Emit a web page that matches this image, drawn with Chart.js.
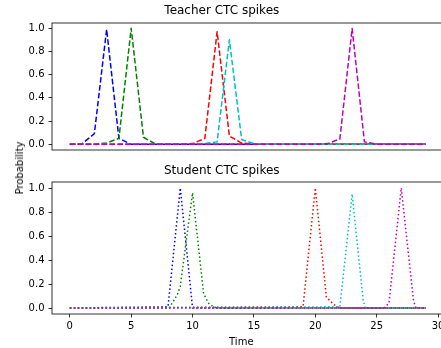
<!DOCTYPE html>
<html>
<head>
<meta charset="utf-8">
<script src="https://cdn.jsdelivr.net/npm/chart.js@4.4.1/dist/chart.umd.min.js"></script>
<style>
  html, body { margin: 0; padding: 0; background: #fff; overflow: hidden; width: 441px; height: 348px; }
  .plot { position: absolute; left: 0; }
  .label { position: absolute; font: 10px 'DejaVu Sans', sans-serif; color: #000; line-height: 12px; white-space: nowrap; }
</style>
</head>
<body>
<canvas id="teacher" class="plot" width="496" height="160" style="top:0"></canvas>
<canvas id="student" class="plot" width="496" height="188" style="top:160px"></canvas>
<div class="label" style="left:19.5px;top:168px;transform:translate(-50%,-50%) rotate(-90deg)">Probability</div>
<div class="label" style="left:241.3px;top:335.5px;transform:translateX(-50%)">Time</div>
<script>
// time axis and ticks
const timeSteps = [0, 1, 2, 3, 4, 5, 6, 7, 8, 9, 10, 11, 12, 13, 14, 15, 16, 17, 18, 19, 20, 21, 22, 23, 24, 25, 26, 27, 28, 29];
const tickX = [0, 5, 10, 15, 20, 25, 30];
const tickY = [0.0, 0.2, 0.4, 0.6, 0.8, 1.0];
const colors = ['#0000ff', '#008000', '#ff0000', '#00bfbf', '#bf00bf'];

// teacher spikes (one value per time step)
const teacherBlue    = [0, 0.005, 0.09, 0.99, 0.05, 0, 0, 0, 0, 0, 0, 0, 0, 0, 0, 0, 0, 0, 0, 0, 0, 0, 0, 0, 0, 0, 0, 0, 0, 0];
const teacherGreen   = [0, 0, 0, 0.01, 0.05, 1.0, 0.06, 0, 0, 0, 0, 0, 0, 0, 0, 0, 0, 0, 0, 0, 0, 0, 0, 0, 0, 0, 0, 0, 0, 0];
const teacherRed     = [0, 0, 0, 0, 0, 0, 0, 0, 0, 0, 0.005, 0.05, 0.97, 0.07, 0.01, 0, 0, 0, 0, 0, 0, 0, 0, 0, 0, 0, 0, 0, 0, 0];
const teacherCyan    = [0, 0, 0, 0, 0, 0, 0, 0, 0, 0, 0, 0.005, 0.02, 0.90, 0.04, 0.005, 0, 0, 0, 0, 0, 0, 0, 0, 0, 0, 0, 0, 0, 0];
const teacherMagenta = [0, 0, 0, 0, 0, 0, 0, 0, 0, 0, 0, 0, 0, 0, 0, 0, 0, 0, 0, 0, 0, 0.005, 0.045, 0.997, 0.02, 0, 0, 0, 0, 0];

// student spikes (read as x / y pairs)
const studentBlueX    = [0, 8, 9, 10, 29];
const studentBlueY    = [0, 0.01, 1.0, 0, 0];
const studentGreenX   = [0, 8.1, 8.75, 9, 10, 10.9, 11.3, 11.7, 12, 29];
const studentGreenY   = [0, 0, 0.11, 0.18, 0.96, 0.12, 0.04, 0.01, 0, 0];
const studentRedX     = [0, 19, 20, 20.9, 21.5, 22, 29];
const studentRedY     = [0, 0.01, 1.0, 0.09, 0.03, 0, 0];
const studentCyanX    = [0, 22, 23, 23.9, 24.1, 29];
const studentCyanY    = [0, 0.01, 0.95, 0.06, 0, 0];
const studentMagentaX = [0, 25.6, 26, 27, 28, 28.2, 29];
const studentMagentaY = [0, 0, 0.04, 1.0, 0.06, 0, 0];

const FONT = "'DejaVu Sans', sans-serif";

// matplotlib style box around the axes
const framePlugin = {
  id: 'frame',
  afterDatasetsDraw(chart) {
    const { ctx, chartArea: a } = chart;
    ctx.save();
    ctx.strokeStyle = '#000';
    ctx.lineWidth = 0.8;
    ctx.strokeRect(a.left, a.top, a.right - a.left, a.bottom - a.top);
    ctx.restore();
  }
};

function toPoints(xs, ys) {
  return xs.map((x, i) => ({ x: x, y: ys[i] }));
}

function buildDatasets(series, dash) {
  // last series drawn on top, like matplotlib
  return series.map((pts, i) => ({
    data: pts,
    borderColor: colors[i],
    borderWidth: 1.5,
    borderDash: dash,
    borderJoinStyle: 'round',
    pointRadius: 0,
    tension: 0,
    fill: false,
    order: series.length - i
  }));
}

function makeChart(id, title, datasets, showX, yMax, titlePadBottom, padBottom) {
  const ctx = document.getElementById(id);
  return new Chart(ctx.getContext('2d'), {
    type: 'line',
    data: { datasets: datasets },
    plugins: [framePlugin],
    options: {
      responsive: false,
      devicePixelRatio: 1,
      animation: false,
      events: [],
      layout: { autoPadding: false, padding: { left: 0, right: 52.4, top: 0, bottom: padBottom } },
      plugins: {
        legend: { display: false },
        tooltip: { enabled: false },
        title: {
          display: true,
          text: title,
          color: '#000',
          font: { family: FONT, size: 12, weight: 'normal' },
          padding: { top: 3.4, bottom: titlePadBottom }
        }
      },
      scales: {
        x: {
          type: 'linear',
          min: -1.45,
          max: 30.45,
          display: showX,
          afterFit: (s) => { s.height = showX ? 34 : 0; },
          afterBuildTicks: (s) => { s.ticks = tickX.map(v => ({ value: v })); },
          ticks: {
            callback: (v) => String(v),
            color: '#000',
            font: { family: FONT, size: 10 },
            padding: 3,
            maxRotation: 0,
            autoSkip: false
          },
          grid: { drawOnChartArea: false, tickLength: 3.5, tickColor: '#000', tickWidth: 0.8 },
          border: { display: false }
        },
        y: {
          min: -0.05,
          max: yMax,
          afterFit: (s) => { s.width = 52; },
          afterBuildTicks: (s) => { s.ticks = tickY.map(v => ({ value: v })); },
          ticks: {
            callback: (v) => Number(v).toFixed(1),
            color: '#000',
            font: { family: FONT, size: 10 },
            padding: 4
          },
          grid: { drawOnChartArea: false, tickLength: 3.5, tickColor: '#000', tickWidth: 0.8 },
          border: { display: false }
        }
      }
    }
  });
}

const teacherSeries = [teacherBlue, teacherGreen, teacherRed, teacherCyan, teacherMagenta]
  .map(ys => toPoints(timeSteps, ys));
const studentSeries = [
  toPoints(studentBlueX, studentBlueY),
  toPoints(studentGreenX, studentGreenY),
  toPoints(studentRedX, studentRedY),
  toPoints(studentCyanX, studentCyanY),
  toPoints(studentMagentaX, studentMagentaY)
];

makeChart('teacher', 'Teacher CTC spikes', buildDatasets(teacherSeries, [5.55, 2.4]), false, 1.045, 5.2, 5);
makeChart('student', 'Student CTC spikes', buildDatasets(studentSeries, [1.5, 2.475]), true, 1.05, 4.2, 0);
</script>
</body>
</html>
